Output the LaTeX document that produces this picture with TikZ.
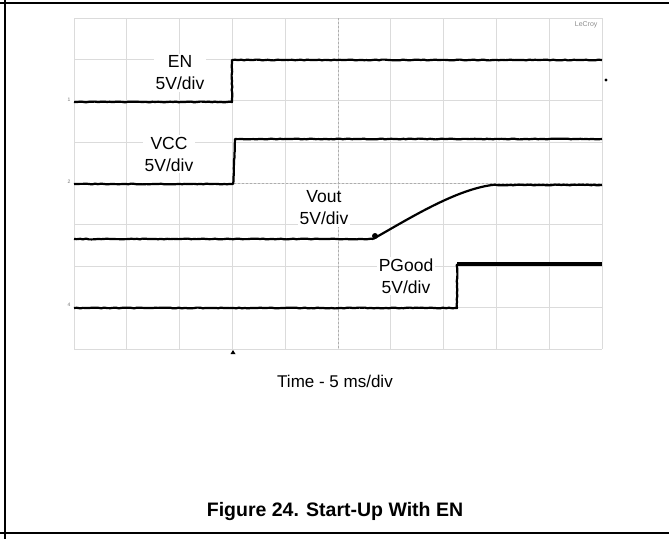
\documentclass[tikz,border=0pt]{standalone}
\usepackage{fontspec}
\setmainfont{Liberation Sans}
\usetikzlibrary{decorations.pathmorphing}
\tikzset{
	gridstyle/.style={draw=black!14,line width=0.8pt},
	centerstyle/.style={draw=black!32,line width=0.8pt,dash pattern=on 2pt off 2pt},
	tracestyle/.style={draw=black,line width=2.2pt,line join=round,decorate,decoration={random steps,segment length=3pt,amplitude=0.4pt}},
	labelstyle/.style={rectangle,fill=white,align=center,font=\fontsize{17.5}{22}\selectfont,inner sep=2pt},
	markstyle/.style={rectangle,font=\fontsize{5}{5}\selectfont,text=black!55,inner sep=0.5pt}
}
\pgfmathsetseed{24}

\begin{document}
\begin{tikzpicture}[x=1pt,y=-1pt]
		\useasboundingbox (0,0) rectangle (669,539);
		% page frame
		\draw[line width=1.2pt] (0,3) -- (669,3);
		\draw[line width=1.2pt] (5,0) -- (5,539);
		\draw[line width=1.2pt] (0,533) -- (669,533);
		% scope grid
		\foreach \i in {0,...,10}
			\draw[gridstyle] ({74+52.8*\i},18) -- ({74+52.8*\i},349);
		\foreach \j in {0,...,8}
			\draw[gridstyle] (74,{18+41.375*\j}) -- (602,{18+41.375*\j});
		\draw[centerstyle] (338,18) -- (338,349);
		\draw[centerstyle] (74,183.5) -- (602,183.5);
		\node[anchor=east,font=\fontsize{7}{7}\selectfont,text=black!45] (lecroy) at (601,25) {LeCroy};
		% traces
		\draw[tracestyle] (74,102) -- (232,102) -- (232,60) -- (602,60);
		\draw[tracestyle] (74,184) -- (233,184) -- (235,139) -- (602,139);
		\draw[tracestyle] (74,239) -- (373,239);
		\draw[black,line width=2.2pt] (373,239) .. controls (410,218) and (455,190) .. (492,185);
		\draw[tracestyle] (492,185) -- (602,185);
		\fill[black] (375,236) circle (3pt);
		\draw[tracestyle] (74,308) -- (457,308) -- (457,264);
		\draw[black,line width=4.8pt] (457,264) -- (602,264);
		% markers
		\node[markstyle] (m1) at (69,100) {1};
		\node[markstyle] (m2) at (69,182) {2};
		\node[markstyle] (m4) at (69,305) {4};
		\fill[black] (606,80) circle (1.6pt);
		\fill[black] (233,350) -- (230.5,354) -- (235.5,354) -- cycle;
		% labels
		\node[labelstyle] (en) at (180,73) {EN\\5V/div};
		\node[labelstyle] (vcc) at (169,154) {VCC\\5V/div};
		\node[labelstyle] (vout) at (324,208) {Vout\\5V/div};
		\node[labelstyle] (pgood) at (406,276) {PGood\\5V/div};
		\node[font=\fontsize{17}{20}\selectfont] (time) at (335,381) {Time - 5 ms/div};
		\node[font=\fontsize{19.5}{22}\selectfont\bfseries] (caption) at (335,511) {Figure 24. Start-Up With EN};
\end{tikzpicture}
\end{document}
